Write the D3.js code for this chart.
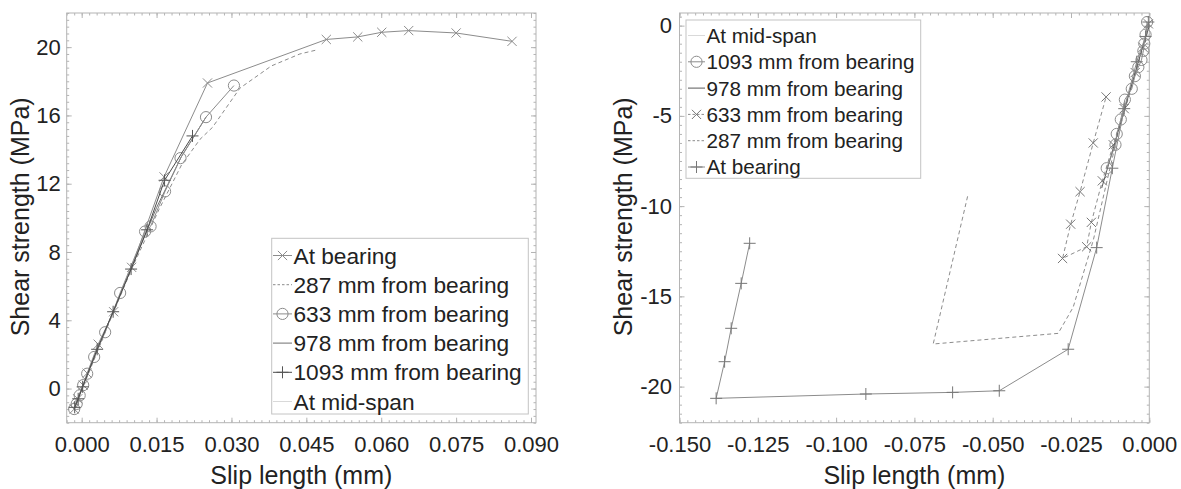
<!DOCTYPE html>
<html>
<head>
<meta charset="utf-8">
<script src="https://cdn.jsdelivr.net/npm/d3@7"></script>
<style>
  body { margin: 0; background: #fff; }
  svg { display: block; font-family: "Liberation Sans", Arial, sans-serif; }
</style>
</head>
<body>
<svg id="chart" width="1181" height="489"></svg>
<script>
// ---------- positive loading (left panel) ----------
const posXTicks = [0, 0.015, 0.03, 0.045, 0.06, 0.075, 0.09];
const posYTicks = [0, 4, 8, 12, 16, 20];

const posBearingSlip  = [-0.0015, -0.0008, 0.0003, 0.0011, 0.0033, 0.0064, 0.0100, 0.0165, 0.0252, 0.0490, 0.0553, 0.0601, 0.0655, 0.0750, 0.0862];
const posBearingShear = [-1.2, -0.6, 0.2, 0.9, 2.6, 4.5, 7.1, 12.4, 17.9, 20.45, 20.6, 20.87, 20.97, 20.83, 20.34];

const pos287Slip  = [-0.0012, 0.0, 0.005, 0.010, 0.0155, 0.0200, 0.0237, 0.0262, 0.0317, 0.0380, 0.0437, 0.0473];
const pos287Shear = [-1.0, -0.1, 3.5, 7.0, 10.5, 13.1, 14.6, 15.3, 17.6, 18.9, 19.6, 19.85];

const pos633Slip  = [-0.0015, -0.0010, -0.0004, 0.0003, 0.0011, 0.0025, 0.0047, 0.0077, 0.0127, 0.0138, 0.0167, 0.0198, 0.0249, 0.0305];
const pos633Shear = [-1.2, -0.9, -0.4, 0.2, 0.87, 1.85, 3.3, 5.6, 9.2, 9.5, 11.55, 13.5, 15.9, 17.75];

const pos978Slip  = [-0.0012, 0.0, 0.005, 0.010, 0.015, 0.020, 0.0249];
const pos978Shear = [-0.9, 0.0, 3.6, 7.1, 10.6, 13.6, 15.9];

const pos1093Slip  = [-0.0014, -0.0007, 0.0002, 0.0031, 0.0063, 0.0099, 0.0131, 0.0166, 0.0222];
const pos1093Shear = [-1.1, -0.6, 0.1, 2.3, 4.5, 7.0, 9.3, 12.2, 14.8];

const posMidSlip  = [-0.001, 0.0, 0.0015];
const posMidShear = [-0.7, 0.0, 1.0];

// ---------- negative loading (right panel) ----------
const negXTicks = [-0.15, -0.125, -0.1, -0.075, -0.05, -0.025, 0];
const negYTicks = [-20, -15, -10, -5, 0];

const negMidSlip  = [0.0, -0.0008, -0.002];
const negMidShear = [0.0, -0.5, -1.2];

const neg1093Slip  = [-0.0007, -0.0012, -0.0016, -0.0019, -0.0025, -0.0035, -0.0046, -0.0056, -0.0078, -0.0091, -0.0104, -0.0108, -0.0136];
const neg1093Shear = [0.2, -0.5, -1.0, -1.4, -1.9, -2.3, -2.8, -3.5, -4.1, -5.2, -6.0, -6.6, -7.9];

const neg978Slip  = [0.0, -0.002, -0.005, -0.009, -0.0125, -0.0152];
const neg978Shear = [0.0, -1.1, -2.9, -5.3, -7.4, -9.0];

const neg633Slip  = [-0.0003, -0.002, -0.0045, -0.008, -0.0115, -0.015, -0.0185, -0.0200, -0.0277, -0.0251, -0.0221, -0.0179, -0.0138];
const neg633Shear = [0.1, -1.2, -2.6, -4.6, -6.6, -8.6, -10.9, -12.25, -12.9, -11.0, -9.2, -6.5, -3.95];

const neg287Slip  = [0.0, -0.0025, -0.006, -0.010, -0.0135, -0.0179, -0.0243, -0.0291, -0.0690, -0.0578];
const neg287Shear = [0.0, -1.5, -3.6, -6.0, -8.6, -11.9, -15.6, -17.05, -17.64, -9.3];

const negBearingSlip  = [-0.0003, -0.0012, -0.0040, -0.0080, -0.0118, -0.0168, -0.0259, -0.0479, -0.0628, -0.0905, -0.1383, -0.1356, -0.1335, -0.1303, -0.1276];
const negBearingShear = [0.2, -0.6, -2.0, -4.6, -7.9, -12.3, -17.93, -20.23, -20.32, -20.41, -20.65, -18.62, -16.77, -14.28, -12.06];

const names = {
  bearing: "At bearing",
  d287: "287 mm from bearing",
  d633: "633 mm from bearing",
  d978: "978 mm from bearing",
  d1093: "1093 mm from bearing",
  mid: "At mid-span"
};

const svg = d3.select("#chart");
svg.append("rect").attr("width", 1181).attr("height", 489).attr("fill", "#fff");

const TEXT = "#222";
const FRAME = "#b4b4b4";

function zip(xs, ys) { return xs.map((v, i) => [v, ys[i]]); }

function minorValues(lo, hi, step) {
  const out = [];
  const n0 = Math.ceil(lo / step - 1e-9), n1 = Math.floor(hi / step + 1e-9);
  for (let k = n0; k <= n1; k++) out.push(+(k * step).toFixed(6));
  return out;
}

function drawMarker(g, type, cx, cy, color) {
  if (type === "o") {
    g.append("circle").attr("cx", cx).attr("cy", cy).attr("r", 5.6)
      .attr("fill", "none").attr("stroke", color).attr("stroke-width", 1);
  } else if (type === "x") {
    const s = 4.6;
    g.append("path").attr("d", `M${cx - s},${cy - s}L${cx + s},${cy + s}M${cx - s},${cy + s}L${cx + s},${cy - s}`)
      .attr("stroke", color).attr("stroke-width", 1).attr("fill", "none");
  } else if (type === "+") {
    const s = 6;
    g.append("path").attr("d", `M${cx - s},${cy}L${cx + s},${cy}M${cx},${cy - s}L${cx},${cy + s}`)
      .attr("stroke", color).attr("stroke-width", 1).attr("fill", "none");
  }
}

function drawPanel(cfg) {
  const { left, top, right, bottom } = cfg.box;
  const x = d3.scaleLinear().domain(cfg.xDomain).range([left, right]);
  const y = d3.scaleLinear().domain(cfg.yDomain).range([bottom, top]);
  const g = svg.append("g");

  // frame
  g.append("rect").attr("x", left).attr("y", top)
    .attr("width", right - left).attr("height", bottom - top)
    .attr("fill", "none").attr("stroke", FRAME).attr("stroke-width", 1);

  const xMinor = minorValues(cfg.xDomain[0], cfg.xDomain[1], cfg.xMinor);
  const yMinor = minorValues(cfg.yDomain[0], cfg.yDomain[1], cfg.yMinor);

  function styleAxis(sel) {
    sel.select(".domain").remove();
    sel.selectAll(".tick line").attr("stroke", FRAME);
  }

  // minor ticks on all sides
  g.append("g").attr("transform", `translate(0,${bottom})`)
    .call(d3.axisBottom(x).tickValues(xMinor).tickSizeInner(-2.5).tickSizeOuter(0).tickFormat(""))
    .call(styleAxis);
  g.append("g").attr("transform", `translate(0,${top})`)
    .call(d3.axisTop(x).tickValues(xMinor).tickSizeInner(-2.5).tickSizeOuter(0).tickFormat(""))
    .call(styleAxis);
  g.append("g").attr("transform", `translate(${left},0)`)
    .call(d3.axisLeft(y).tickValues(yMinor).tickSizeInner(-2.5).tickSizeOuter(0).tickFormat(""))
    .call(styleAxis);
  g.append("g").attr("transform", `translate(${right},0)`)
    .call(d3.axisRight(y).tickValues(yMinor).tickSizeInner(-2.5).tickSizeOuter(0).tickFormat(""))
    .call(styleAxis);

  // major ticks with labels
  const xa = g.append("g").attr("transform", `translate(0,${bottom})`)
    .call(d3.axisBottom(x).tickValues(cfg.xTicks).tickSizeInner(-5).tickSizeOuter(0)
      .tickPadding(14).tickFormat(d => (Math.abs(d) < 1e-12 ? 0 : d).toFixed(3)))
    .call(styleAxis);
  xa.selectAll("text").attr("fill", TEXT).style("font-size", "22px")
    .style("font-family", '"Liberation Sans", Arial, sans-serif');

  const ya = g.append("g").attr("transform", `translate(${left},0)`)
    .call(d3.axisLeft(y).tickValues(cfg.yTicks).tickSizeInner(-5).tickSizeOuter(0)
      .tickPadding(cfg.yPad).tickFormat(d => String(d)))
    .call(styleAxis);
  ya.selectAll("text").attr("fill", TEXT).style("font-size", "22px")
    .style("font-family", '"Liberation Sans", Arial, sans-serif');

  g.append("g").attr("transform", `translate(0,${top})`)
    .call(d3.axisTop(x).tickValues(cfg.xTicks).tickSizeInner(-5).tickSizeOuter(0).tickFormat(""))
    .call(styleAxis);
  g.append("g").attr("transform", `translate(${right},0)`)
    .call(d3.axisRight(y).tickValues(cfg.yTicks).tickSizeInner(-5).tickSizeOuter(0).tickFormat(""))
    .call(styleAxis);

  // axis titles
  g.append("text").attr("x", (left + right) / 2).attr("y", 484)
    .attr("text-anchor", "middle").attr("fill", TEXT).style("font-size", "25px")
    .text("Slip length (mm)");
  g.append("text").attr("transform", `translate(${cfg.yTitleX},${(top + bottom) / 2 - 1}) rotate(-90)`)
    .attr("text-anchor", "middle").attr("fill", TEXT).style("font-size", "25px")
    .text("Shear strength (MPa)");

  // series
  const line = d3.line().x(d => x(d[0])).y(d => y(d[1]));
  const sg = g.append("g");
  cfg.series.forEach(s => {
    const pts = zip(s.xs, s.ys);
    sg.append("path").datum(pts).attr("d", line)
      .attr("fill", "none").attr("stroke", s.color).attr("stroke-width", s.width || 1)
      .attr("stroke-dasharray", s.dash || null);
    if (s.marker) {
      const mg = sg.append("g");
      pts.forEach(p => drawMarker(mg, s.marker, x(p[0]), y(p[1]), s.markerColor || s.color));
    }
  });

  // legend
  const L = cfg.legend;
  const lg = g.append("g");
  lg.append("rect").attr("x", L.x).attr("y", L.y).attr("width", L.w).attr("height", L.h)
    .attr("fill", "#fff").attr("stroke", "#c4c4c4").attr("stroke-width", 1);
  L.order.forEach((key, i) => {
    const s = cfg.series.find(d => d.key === key);
    const cy = L.firstY + i * L.step;
    lg.append("line").attr("x1", L.lineX0).attr("x2", L.lineX1).attr("y1", cy).attr("y2", cy)
      .attr("stroke", s.color).attr("stroke-width", s.width || 1)
      .attr("stroke-dasharray", s.dash ? "2.5,2" : null);
    if (s.marker) drawMarker(lg, s.marker, (L.lineX0 + L.lineX1) / 2, cy, s.markerColor || s.color);
    lg.append("text").attr("x", L.textX).attr("y", cy).attr("dy", "0.36em")
      .attr("fill", TEXT).style("font-size", L.font + "px").text(names[key]);
  });
}

const GREY = "#8c8c8c";

drawPanel({
  box: { left: 66.7, top: 13, right: 536, bottom: 422.7 },
  xDomain: [-0.003, 0.091], yDomain: [-2, 22],
  xTicks: posXTicks, yTicks: posYTicks, xMinor: 0.0015, yMinor: 0.4,
  yPad: 6, yTitleX: 29,
  series: [
    { key: "mid", xs: posMidSlip, ys: posMidShear, color: "#d9d9d9" },
    { key: "d287", xs: pos287Slip, ys: pos287Shear, color: GREY, dash: "4,3" },
    { key: "d978", xs: pos978Slip, ys: pos978Shear, color: "#707070" },
    { key: "d633", xs: pos633Slip, ys: pos633Shear, color: GREY, marker: "o" },
    { key: "bearing", xs: posBearingSlip, ys: posBearingShear, color: GREY, marker: "x" },
    { key: "d1093", xs: pos1093Slip, ys: pos1093Shear, color: "#4a4a4a", marker: "+", markerColor: "#555" }
  ],
  legend: {
    x: 271.7, y: 238.3, w: 256.6, h: 175.7, firstY: 255.5, step: 29.2,
    lineX0: 273, lineX1: 292, textX: 293.5, font: 22.7,
    order: ["bearing", "d287", "d633", "d978", "d1093", "mid"]
  }
});

drawPanel({
  box: { left: 679.5, top: 13, right: 1149.3, bottom: 422.7 },
  xDomain: [-0.15, 0], yDomain: [-22, 0.7],
  xTicks: negXTicks, yTicks: negYTicks, xMinor: 0.0025, yMinor: 0.5,
  yPad: 7.5, yTitleX: 632,
  series: [
    { key: "mid", xs: negMidSlip, ys: negMidShear, color: "#d9d9d9" },
    { key: "d287", xs: neg287Slip, ys: neg287Shear, color: GREY, dash: "4,3" },
    { key: "d633", xs: neg633Slip, ys: neg633Shear, color: GREY, dash: "4,3", marker: "x", markerColor: "#777" },
    { key: "d978", xs: neg978Slip, ys: neg978Shear, color: "#5a5a5a" },
    { key: "d1093", xs: neg1093Slip, ys: neg1093Shear, color: GREY, marker: "o" },
    { key: "bearing", xs: negBearingSlip, ys: negBearingShear, color: GREY, marker: "+", markerColor: "#777" }
  ],
  legend: {
    x: 686, y: 20, w: 234.7, h: 158.3, firstY: 35.5, step: 26.3,
    lineX0: 688, lineX1: 705, textX: 706.5, font: 20.7,
    order: ["mid", "d1093", "d978", "d633", "d287", "bearing"]
  }
});
</script>
</body>
</html>
